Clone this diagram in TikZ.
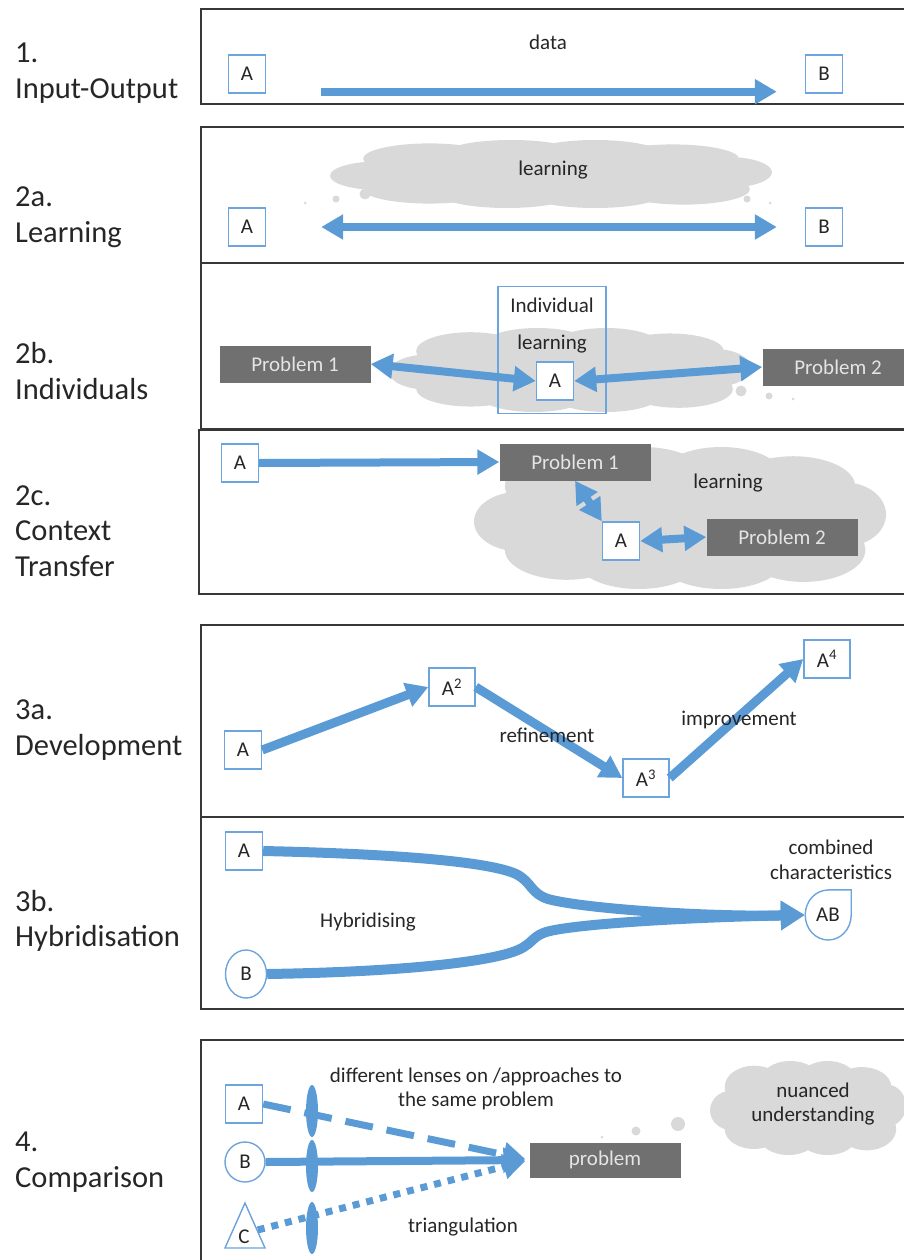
\documentclass[tikz,border=0pt]{standalone}
\usepackage{fontspec}
\setmainfont{Carlito}
\usetikzlibrary{arrows.meta,shapes.geometric}
\definecolor{flowblue}{RGB}{91,155,213}
\definecolor{boxblue}{RGB}{108,164,221}
\definecolor{cloudgray}{RGB}{217,217,217}
\definecolor{probgray}{RGB}{112,112,112}
\definecolor{probtext}{RGB}{228,228,228}
\definecolor{framegray}{RGB}{55,55,55}
\tikzset{
  panel/.style={draw=framegray,line width=1.8pt},
  sidelabel/.style={anchor=west,align=left,inner sep=0pt,
    font=\fontsize{30.5}{35.5}\selectfont,text=black!85},
  txt/.style={font=\fontsize{21}{24.5}\selectfont,text=black!85,align=center,inner sep=0pt},
  item/.style={txt,draw=boxblue,line width=1.4pt,fill=white,minimum width=37pt,minimum height=38pt},
  rounditem/.style={item,ellipse},
  problem/.style={txt,fill=probgray,text=probtext,minimum width=151pt,minimum height=37pt},
  bubble/.style={fill=cloudgray},
  flow/.style={draw=flowblue,line width=8pt,>={Triangle[length=22pt,width=24pt]}},
  % a cloud in a unit box, scaled where it is used
  puff/.pic={
    \fill[cloudgray] (0,0) ellipse [x radius=0.82,y radius=0.62] ;
    \foreach \px/\py/\rx/\ry in {-0.78/0.05/0.22/0.42,-0.55/-0.45/0.3/0.45,
        -0.18/-0.6/0.3/0.4,0.2/-0.58/0.3/0.42,0.55/-0.45/0.3/0.42,
        0.8/-0.05/0.2/0.45,0.6/0.45/0.3/0.45,0.2/0.6/0.3/0.4,
        -0.2/0.6/0.3/0.4,-0.55/0.45/0.3/0.42}
      \fill[cloudgray] (\px,\py) ellipse [x radius=\rx,y radius=\ry] ;
  }
}
\begin{document}
\begin{tikzpicture}[x=1pt,y=-1pt]
        \useasboundingbox (0,0) rectangle (904,1260) ;
        \clip (0,0) rectangle (904,1260) ;
        % side labels
        \node[sidelabel] (t1) at (15,73) {1.\\Input-Output} ;
        \node[sidelabel] (t2a) at (15,217) {2a.\\Learning} ;
        \node[sidelabel] (t2b) at (15,371) {2b.\\Individuals} ;
        \node[sidelabel] (t2c) at (15,531) {2c.\\Context\\Transfer} ;
        \node[sidelabel] (t3a) at (15,730) {3a.\\Development} ;
        \node[sidelabel] (t3b) at (15,921) {3b.\\Hybridisation} ;
        \node[sidelabel] (t4) at (15,1162) {4.\\Comparison} ;
        % 1. input-output
        \draw[panel] (201,9) rectangle (915,104) ;
        \node[item] (A1) at (247,74) {A} ;
        \node[item] (B1) at (824,74) {B} ;
        \node[txt] (data) at (548,42) {data} ;
        \draw[flow,->,shorten <=55pt,shorten >=28pt]
        ([yshift=2pt]A1.south east) -- ([yshift=2pt]B1.south west) ;
        % 2a. learning
        \draw[panel] (201,127) rectangle (915,263) ;
        \pic[xscale=221,yscale=34] at (551,174) {puff} ;
        \node[txt] (learn2a) at (553,170) {learning} ;
        \foreach \dx/\dy/\r in {305/203/1.5,336/199/3.5,365/194/5.5,720/194/5.5,747/199/3.5,770/203/1.5}
          \fill[bubble] (\dx,\dy) circle (\r) ;
        \node[item] (A2a) at (247,227) {A} ;
        \node[item] (B2a) at (824,227) {B} ;
        \draw[flow,<->,shorten <=55pt,shorten >=28pt] (A2a) -- (B2a) ;
        % 2b. individuals
        \draw[panel] (201,263) rectangle (915,429) ;
        \pic[xscale=181,yscale=42] at (570,370) {puff} ;
        \foreach \dx/\dy/\r in {741/391/5.5,769/396/3.5,793/399/1.5}
          \fill[bubble] (\dx,\dy) circle (\r) ;
        \node[draw=boxblue,line width=1.4pt,minimum width=108pt,minimum height=127pt] (frame2b) at (552,350) {} ;
        \node[txt] (indiv) at (552,305) {Individual} ;
        \node[txt] (learn2b) at (552,344) {learning} ;
        \node[item] (Ab) at (555,381) {A} ;
        \node[problem] (P1b) at (295,364) {Problem 1} ;
        \node[problem] (P2b) at (838,367) {Problem 2} ;
        \draw[flow,<->] (P1b.east) -- (Ab.west) ;
        \draw[flow,<->] (Ab.east) -- (P2b.west) ;
        % 2c. context transfer
        \draw[panel] (199,430) rectangle (915,594) ;
        \pic[xscale=206,yscale=71] at (680,518) {puff} ;
        \node[item] (Ac) at (240,463) {A} ;
        \node[problem] (P1c) at (575,462) {Problem 1} ;
        \node[txt] (learn2c) at (728,483) {learning} ;
        \node[item] (A2c) at (621,541) {A} ;
        \node[problem] (P2c) at (782,537) {Problem 2} ;
        \draw[flow,->] (Ac.east) -- (P1c.west) ;
        \draw[flow,<->] (P1c.south) -- (A2c.north west) ;
        \draw[flow,<->] (A2c.east) -- (P2c.west) ;
        % 3a. development
        \draw[panel] (201,625) rectangle (915,817) ;
        \node[item] (D1) at (243,750) {A} ;
        \node[item,minimum width=46pt] (D2) at (452,687) {A\textsuperscript{2}} ;
        \node[item,minimum width=46pt] (D3) at (646,778) {A\textsuperscript{3}} ;
        \node[item,minimum width=46pt] (D4) at (827,659) {A\textsuperscript{4}} ;
        \draw[flow,->,line width=9pt] (D1.east) -- (D2.west) ;
        \draw[flow,->,line width=9pt] (D2.east) -- (D3.west) ;
        \draw[flow,->,line width=9pt] (D3.east) -- (D4.west) ;
        \node[txt] (refine) at (547,735) {refinement} ;
        \node[txt] (improve) at (739,720) {improvement} ;
        % 3b. hybridisation
        \draw[panel] (201,817) rectangle (915,1009) ;
        \node[item] (H1) at (244,851) {A} ;
        \node[rounditem,minimum width=41pt,minimum height=48pt] (H2) at (246,974) {B} ;
        \node[txt,minimum width=46pt,minimum height=50pt] (AB) at (828,915) {AB} ;
        \draw[boxblue,line width=1.4pt] (AB.north) -| (AB.east)
        arc[start angle=0,end angle=270,x radius=23,y radius=25] ;
        \node[txt] (combined) at (831,860) {combined\\characteristics} ;
        \node[txt] (hybrid) at (368,922) {Hybridising} ;
        \draw[flow,->,line width=10pt,>={Triangle[length=24pt,width=28pt]}]
        (H1.east) .. controls (400,854) and (490,862) .. (516,874)
        .. controls (532,882) and (530,893) .. (548,899)
        .. controls (580,908) and (700,917) .. (AB.west) ;
        \draw[flow,->,line width=10pt,>={Triangle[length=24pt,width=28pt]}]
        (H2.east) .. controls (400,972) and (490,962) .. (518,950)
        .. controls (534,943) and (532,935) .. (550,931)
        .. controls (585,923) and (700,917) .. (AB.west) ;
        % 4. comparison
        \draw[panel] (201,1040) rectangle (915,1280) ;
        \pic[xscale=98,yscale=47] at (808,1108) {puff} ;
        \node[txt] (nuanced) at (813,1104) {nuanced\\understanding} ;
        \foreach \dx/\dy/\r in {602/1137/1.5,636/1131/4.5,678/1124/7}
          \fill[bubble] (\dx,\dy) circle (\r) ;
        \node[item] (A4) at (244,1104) {A} ;
        \node[rounditem,minimum width=40pt,minimum height=40pt] (B4) at (245,1162) {B} ;
        \draw[boxblue,line width=1.4pt,fill=white] (225,1248) -- (245,1203) -- (265,1248) -- cycle ;
        \node[txt] (C4) at (244,1237) {C} ;
        \node[problem,minimum height=35pt] (prob) at (605,1160) {problem} ;
        \node[txt] (lenses) at (476,1089) {different lenses on /approaches to\\the same problem} ;
        \node[txt] (triang) at (463,1227) {triangulation} ;
        \draw[flow,->,line width=7pt,dash pattern=on 28pt off 14pt,shorten >=4pt] (A4.east) -- (prob.west) ;
        \draw[flow,->,shorten >=4pt] (B4.east) -- (prob.west) ;
        \draw[flow,->,line width=7pt,dash pattern=on 7pt off 7pt,shorten >=4pt]
        ([xshift=8pt]C4.north east) -- (prob.west) ;
        \foreach \ly in {1111,1166,1228}
          \fill[flowblue] (312,\ly) ellipse [x radius=6,y radius=26] ;
\end{tikzpicture}
\end{document}
